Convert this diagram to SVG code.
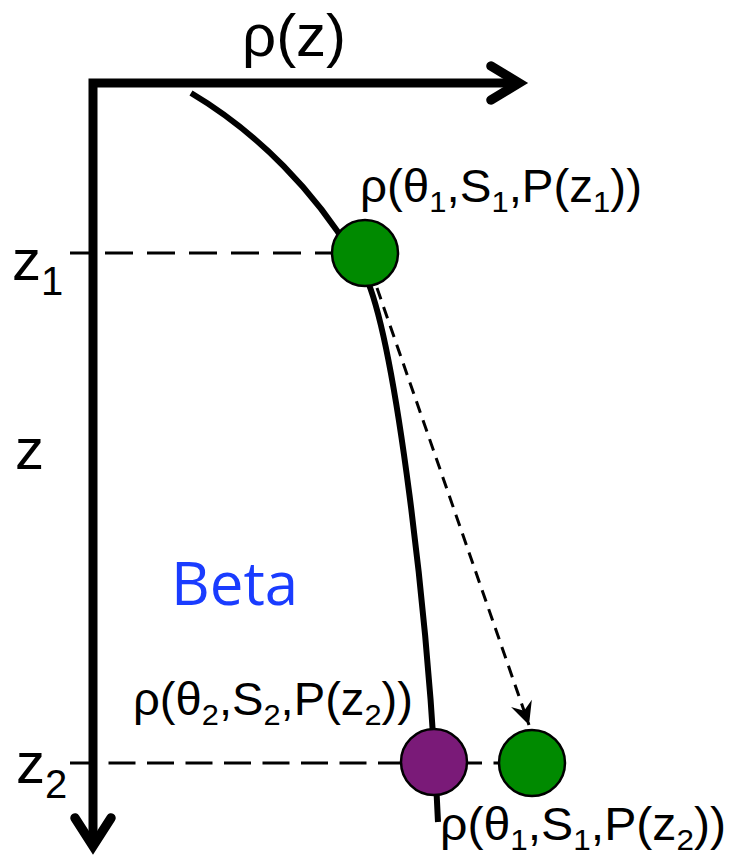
<svg xmlns="http://www.w3.org/2000/svg" width="731" height="861" viewBox="0 0 731 861">
  <style>
    text { font-family: "Liberation Sans", Arial, sans-serif; fill: #000; }
    .lbl { font-size: 46px; }
    .sub { font-size: 30px; }
    .axlbl { font-size: 58px; }
    .axsub { font-size: 40px; }
    .axis { fill: none; stroke: #000; stroke-width: 9; stroke-linejoin: miter; stroke-miterlimit: 10; }
    .head { fill: none; stroke: #000; stroke-width: 9.5; stroke-linecap: round; stroke-linejoin: miter; stroke-miterlimit: 10; }
    .curve { fill: none; stroke: #000; stroke-width: 6; stroke-linecap: butt; }
    .level { fill: none; stroke: #000; stroke-width: 3; }
    .move { fill: none; stroke: #000; stroke-width: 3; stroke-dasharray: 12 8; }
    .dot { stroke: #000; stroke-width: 2.5; }
    .green { fill: #008a00; }
    .purple { fill: #7a1a78; }
    .beta { font-family: "Open Sans", "Noto Sans", sans-serif; font-size: 60px; fill: #1a3cff; }
  </style>
  <defs>
    <marker id="arrow" markerUnits="userSpaceOnUse" viewBox="-24 -13 26 26" markerWidth="26" markerHeight="26" refX="0" refY="0" orient="auto">
      <path d="M0,0 L-23,-11 L-15,0 L-23,11 Z" fill="#000"/>
    </marker>
  </defs>

  <g id="connectors">
    <path class="level" d="M70,253 L365,253" stroke-dasharray="28 14" stroke-dashoffset="7"/>
    <path class="level" d="M70,763 L531,763" stroke-dasharray="27 11.5" stroke-dashoffset="0"/>
    <path class="curve" d="M191,93 C250,128 320,190 368,282 C395,350 428,600 438,822"/>
    <path class="move" d="M377,288 L529,725" marker-end="url(#arrow)"/>
    <path class="axis" d="M93,845 L93,83 L520,83"/>
    <path class="head" d="M491,66 L519,83 L491,100"/>
    <path class="head" d="M75,818 L93,846 L111,818"/>
  </g>

  <g id="axis-labels">
    <text class="axlbl" x="242" y="56" style="font-size:60px">ρ(z)</text>
    <text class="axlbl" x="15" y="469">z</text>
    <text class="axlbl" x="12" y="280">z<tspan class="axsub" dy="15">1</tspan></text>
    <text class="axlbl" x="16" y="783">z<tspan class="axsub" dy="15">2</tspan></text>
    <text class="beta" x="171" y="605">Beta</text>
  </g>

  <g id="node-p1">
    <circle class="dot green" cx="365" cy="253" r="33"/>
    <text class="lbl" x="360" y="202" textLength="282" lengthAdjust="spacingAndGlyphs">ρ(θ<tspan class="sub" dy="10">1</tspan><tspan dy="-10">,S</tspan><tspan class="sub" dy="10">1</tspan><tspan dy="-10">,P(z</tspan><tspan class="sub" dy="10">1</tspan><tspan dy="-10">))</tspan></text>
  </g>

  <g id="node-p2">
    <circle class="dot purple" cx="434" cy="762" r="33"/>
    <text class="lbl" x="133" y="715" textLength="280" lengthAdjust="spacingAndGlyphs">ρ(θ<tspan class="sub" dy="10">2</tspan><tspan dy="-10">,S</tspan><tspan class="sub" dy="10">2</tspan><tspan dy="-10">,P(z</tspan><tspan class="sub" dy="10">2</tspan><tspan dy="-10">))</tspan></text>
  </g>

  <g id="node-p3">
    <circle class="dot green" cx="532" cy="763" r="33"/>
    <text class="lbl" x="440" y="840" textLength="286" lengthAdjust="spacingAndGlyphs">ρ(θ<tspan class="sub" dy="10">1</tspan><tspan dy="-10">,S</tspan><tspan class="sub" dy="10">1</tspan><tspan dy="-10">,P(z</tspan><tspan class="sub" dy="10">2</tspan><tspan dy="-10">))</tspan></text>
  </g>
</svg>
